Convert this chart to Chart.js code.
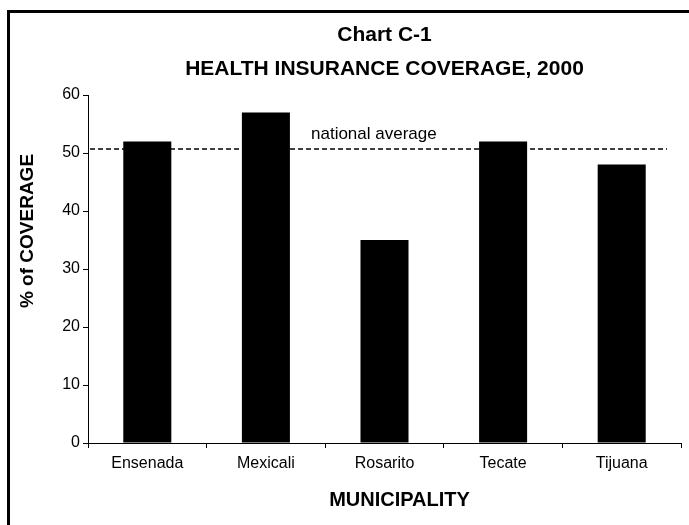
<!DOCTYPE html>
<html>
<head>
<meta charset="utf-8">
<title>Health insurance coverage, 2000</title>
<script src="https://cdn.jsdelivr.net/npm/chart.js@4"></script>
<style>
  html, body { margin: 0; padding: 0; background: #fff; }
  /* moldura em volta do gráfico */
  #quadro { position: absolute; left: 7px; top: 10px; width: 720px; height: 560px;
            border-left: 3px solid #000; border-top: 3px solid #000; }
  #grafico { position: absolute; left: 0; top: 0; }
</style>
</head>
<body>
<div id="quadro"></div>
<canvas id="grafico" width="689" height="525"></canvas>
<script>
// Dados: cobertura de seguro saúde por município (%)
const municipios = ['Ensenada', 'Mexicali', 'Rosarito', 'Tecate', 'Tijuana'];
const cobertura = [52, 57, 35, 52, 48];
const mediaNacional = 50.7;
const marcasEixoY = [0, 10, 20, 30, 40, 50, 60];

const fonte = '"Liberation Sans", Arial, Helvetica, sans-serif';

// Títulos, linha tracejada da média e o rótulo dela
const textosGrafico = {
  id: 'textosGrafico',
  beforeDatasetsDraw(chart) {
    const { ctx, chartArea, scales: { y } } = chart;
    const yMedia = y.getPixelForValue(mediaNacional);
    ctx.save();
    ctx.strokeStyle = '#000';
    ctx.lineWidth = 1.5;
    ctx.setLineDash([5, 3]);
    ctx.beginPath();
    ctx.moveTo(chartArea.left + 2, yMedia);
    ctx.lineTo(chartArea.right - 14, yMedia);
    ctx.stroke();
    ctx.setLineDash([]);
    ctx.fillStyle = '#000';
    ctx.font = '17px ' + fonte;
    ctx.textAlign = 'left';
    ctx.fillText('national average', chartArea.left + 223, yMedia - 9.5);
    ctx.restore();
  },
  afterDraw(chart) {
    const { ctx, chartArea } = chart;
    const centro = (chartArea.left + chartArea.right) / 2;
    ctx.save();
    ctx.fillStyle = '#000';
    ctx.textAlign = 'center';
    ctx.font = 'bold 21px ' + fonte;
    ctx.fillText('Chart C-1', centro, 41);
    ctx.fillText('HEALTH INSURANCE COVERAGE, 2000', centro, 75);
    ctx.font = 'bold 20px ' + fonte;
    ctx.fillText('MUNICIPALITY', centro + 15, 506);
    ctx.translate(33, 231);
    ctx.rotate(-Math.PI / 2);
    ctx.font = 'bold 19px ' + fonte;
    ctx.fillText('% of COVERAGE', 0, 0);
    ctx.restore();
  }
};

window.addEventListener('DOMContentLoaded', () => {
  const ctx = document.getElementById('grafico').getContext('2d');
  new Chart(ctx, {
    type: 'bar',
    data: {
      labels: municipios,
      datasets: [{
        data: cobertura,
        backgroundColor: '#000',
        borderWidth: 0,
        barPercentage: 0.405,
        categoryPercentage: 1
      }]
    },
    options: {
      responsive: false,
      animation: false,
      layout: { padding: { top: 95, right: 8, bottom: 0, left: 0 } },
      plugins: { legend: { display: false }, tooltip: { enabled: false } },
      scales: {
        x: {
          grid: { offset: true, drawOnChartArea: false, drawTicks: true, tickLength: 5, color: '#000' },
          border: { color: '#000', width: 1 },
          ticks: { color: '#000', font: { family: fonte, size: 16 }, padding: 6 },
          afterFit: s => { s.height = 82; }
        },
        y: {
          min: marcasEixoY[0],
          max: marcasEixoY[marcasEixoY.length - 1],
          ticks: { stepSize: marcasEixoY[1] - marcasEixoY[0], color: '#000', font: { family: fonte, size: 16 }, padding: 3 },
          grid: { drawOnChartArea: false, drawTicks: true, tickLength: 5, color: '#000' },
          border: { color: '#000', width: 1 },
          afterFit: s => { s.width = 88; }
        }
      }
    },
    plugins: [textosGrafico]
  });
});
</script>
</body>
</html>
